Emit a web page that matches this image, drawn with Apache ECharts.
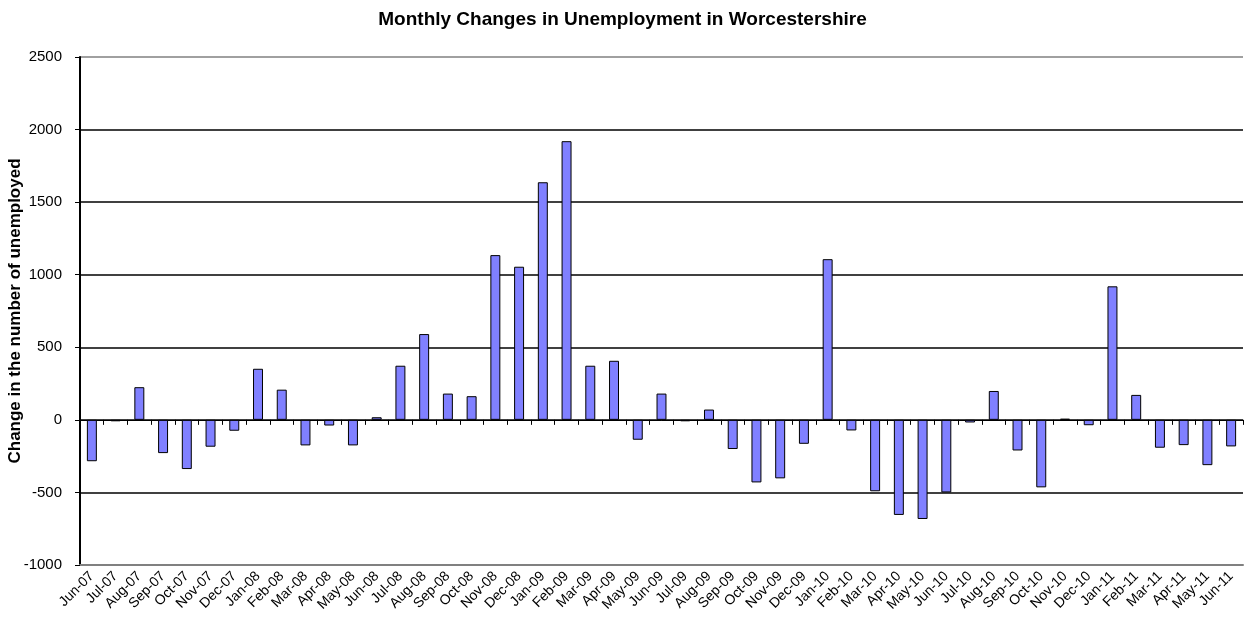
<!DOCTYPE html>
<html>
<head>
<meta charset="utf-8">
<script src="https://cdn.jsdelivr.net/npm/echarts@6/dist/echarts.min.js"></script>
<style>
  html, body { margin: 0; padding: 0; background: #fff; }
  #chart { width: 1245px; height: 628px; }
</style>
</head>
<body>
<div id="chart"></div>
<script>
// months Jun-07 .. Jun-11
const months = [
  'Jun-07', 'Jul-07', 'Aug-07', 'Sep-07', 'Oct-07', 'Nov-07', 'Dec-07',
  'Jan-08', 'Feb-08', 'Mar-08', 'Apr-08', 'May-08', 'Jun-08', 'Jul-08', 'Aug-08', 'Sep-08', 'Oct-08', 'Nov-08', 'Dec-08',
  'Jan-09', 'Feb-09', 'Mar-09', 'Apr-09', 'May-09', 'Jun-09', 'Jul-09', 'Aug-09', 'Sep-09', 'Oct-09', 'Nov-09', 'Dec-09',
  'Jan-10', 'Feb-10', 'Mar-10', 'Apr-10', 'May-10', 'Jun-10', 'Jul-10', 'Aug-10', 'Sep-10', 'Oct-10', 'Nov-10', 'Dec-10',
  'Jan-11', 'Feb-11', 'Mar-11', 'Apr-11', 'May-11', 'Jun-11'
]

// change in number of unemployed
const changes = [
  -285, -10, 225, -229, -339, -185, -75,
  352, 208, -176, -39, -176, 18, 373, 591, 181, 163, 1135, 1055,
  1637, 1920, 373, 407, -137, 181, -10, 71, -201, -431, -403, -165,
  1107, -73, -492, -655, -683, -500, -18, 199, -211, -465, 8, -37,
  920, 172, -192, -174, -312, -183
]

const yMin = -1000
const yMax = 2500
const yStep = 500

const FONT = '"Liberation Sans", Arial, sans-serif'

const chart = echarts.init(document.getElementById('chart'), null, { renderer: 'canvas' })

chart.setOption({
  animation: false,
  backgroundColor: '#fff',
  title: {
    text: 'Monthly Changes in Unemployment in Worcestershire',
    left: 'center',
    top: 5,
    textStyle: { fontFamily: FONT, fontSize: 19, fontWeight: 'bold', color: '#000' }
  },
  grid: { left: 80, right: 2, top: 57, bottom: 63, containLabel: false, outerBoundsMode: 'none' },
  xAxis: [
    {
      // labels along the bottom
      type: 'category',
      data: months,
      position: 'bottom',
      axisLine: { onZero: false, lineStyle: { color: '#808080', width: 2 } },
      axisTick: { show: false },
      axisLabel: {
        interval: 0,
        rotate: 45,
        margin: 9,
        fontFamily: FONT,
        fontSize: 14,
        color: '#000'
      },
      splitLine: { show: false }
    },
    {
      // the zero line with its ticks
      type: 'category',
      data: months,
      position: 'top',
      axisLine: { onZero: true, lineStyle: { color: '#000', width: 1 } },
      axisTick: { show: true, inside: true, length: 5, interval: 0, lineStyle: { color: '#000' } },
      axisLabel: { show: false },
      splitLine: { show: false }
    }
  ],
  yAxis: {
    type: 'value',
    min: yMin,
    max: yMax,
    interval: yStep,
    name: 'Change in the number of unemployed',
    nameLocation: 'middle',
    nameGap: 56,
    nameMoveOverlap: false,
    nameTextStyle: { fontFamily: FONT, fontSize: 17, fontWeight: 'bold', color: '#000' },
    axisLine: { show: true, lineStyle: { color: '#000', width: 2 } },
    axisTick: { show: true, length: 5, lineStyle: { color: '#000' } },
    axisLabel: {
      margin: 18,
      fontFamily: FONT,
      fontSize: 15,
      color: '#000',
      formatter: v => String(v)
    },
    splitLine: {
      show: true,
      lineStyle: {
        color: ['#808080', '#000', '#000', '#000', '#000', '#000', '#000', '#808080'],
        width: 1.5
      }
    }
  },
  series: [{
    type: 'bar',
    xAxisIndex: 0,
    data: changes,
    barWidth: '42%',
    itemStyle: { color: '#8080FF', borderColor: '#000', borderWidth: 1 }
  }]
})
</script>
</body>
</html>
